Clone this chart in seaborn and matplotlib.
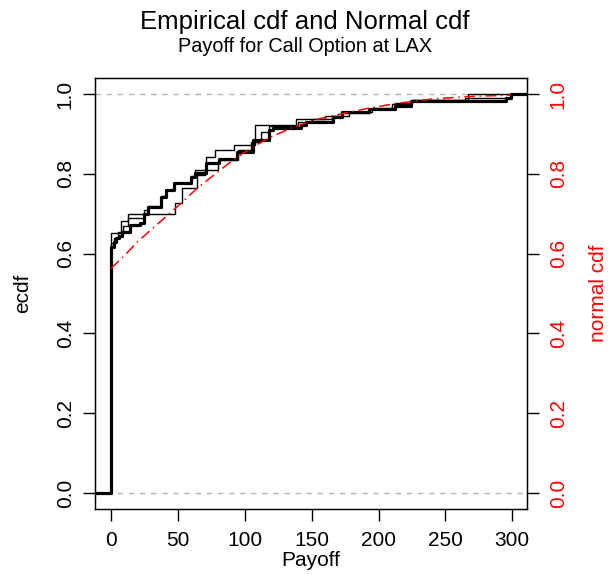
import numpy as np
import pandas as pd
import seaborn as sns
import matplotlib
matplotlib.use("Agg")
import matplotlib.pyplot as plt

# main empirical cdf (thick line): jump locations and levels
ecdf_x = [0, 2, 4, 6, 8, 14.5, 22, 24.5, 28, 37, 41, 47, 59.5, 63, 71, 80.5, 94.5,
          106, 118, 121, 142, 146, 166, 173, 193, 212, 224.5, 295, 299]
ecdf_y = [0.617, 0.63, 0.64, 0.645, 0.655, 0.672, 0.676, 0.70, 0.717, 0.743, 0.759,
          0.776, 0.793, 0.801, 0.826, 0.838, 0.855, 0.885, 0.91, 0.914, 0.922, 0.93,
          0.943, 0.954, 0.962, 0.97, 0.982, 0.989, 1.0]

# two thin ecdfs
thinA_x = [0, 7.5, 13, 24.5, 28, 37, 41, 47, 59.5, 63, 70.7, 78, 92, 108, 138, 160,
           173, 193, 212, 224.5, 265, 299]
thinA_y = [0.652, 0.682, 0.70, 0.71, 0.72, 0.745, 0.76, 0.778, 0.795, 0.81, 0.843,
           0.86, 0.872, 0.922, 0.937, 0.945, 0.952, 0.962, 0.977, 0.985, 0.99, 1.0]

thinB_x = [0, 2, 5, 9, 13, 24.5, 48, 53, 64.5, 70, 80, 95, 105, 112, 118, 140, 150,
           165, 178, 195, 210, 225, 267]
thinB_y = [0.626, 0.64, 0.655, 0.67, 0.69, 0.70, 0.727, 0.764, 0.797, 0.81, 0.835,
           0.86, 0.88, 0.905, 0.92, 0.93, 0.937, 0.945, 0.955, 0.965, 0.975, 0.985, 1.0]

# fitted normal cdf (red)
norm_x = [0, 10, 20, 30, 48, 64.5, 80, 93, 105, 118, 135, 152, 165, 192, 215, 242, 270, 299]
norm_y = [0.563, 0.595, 0.63, 0.66, 0.713, 0.764, 0.805, 0.839, 0.865, 0.89, 0.915,
          0.935, 0.945, 0.964, 0.977, 0.988, 0.994, 0.997]

XMIN, XMAX = -12, 311

sns.set_style("white")
plt.rcParams['font.family'] = ['Liberation Sans', 'DejaVu Sans']
plt.rcParams['text.color'] = 'black'
plt.rcParams['axes.labelcolor'] = 'black'
plt.rcParams['xtick.color'] = 'black'
plt.rcParams['ytick.color'] = 'black'

fig = plt.figure(figsize=(6.1, 5.75), dpi=100)
ax = fig.add_axes([95/610, 1-509/575, 432/610, 431/575])

def step_df(xs, ys):
    # pad with the flat parts before the first and after the last jump
    return pd.DataFrame({"x": [XMIN] + list(xs) + [XMAX],
                         "y": [0] + list(ys) + [ys[-1]]})

ax.axhline(0, color="#b3b3b3", ls=(0, (4, 4)), lw=1)
ax.axhline(1, color="#b3b3b3", ls=(0, (4, 4)), lw=1)

for xs, ys, w in [(thinA_x, thinA_y, 1.0), (thinB_x, thinB_y, 1.0), (ecdf_x, ecdf_y, 2.3)]:
    sns.lineplot(data=step_df(xs, ys), x="x", y="y", ax=ax, color="black", lw=w,
                 drawstyle="steps-post", sort=False, estimator=None)

sns.lineplot(x=norm_x, y=norm_y, ax=ax, color="red", lw=1.1,
             linestyle=(0, (7, 3, 1, 3)), sort=False, estimator=None)

ax.set_xlim(XMIN, XMAX)
ax.set_ylim(-0.04, 1.04)
ax.set_xticks(range(0, 301, 50))
ax.set_yticks(np.arange(0, 1.01, 0.2))
ax.set_yticklabels([f"{v:.1f}" for v in np.arange(0, 1.01, 0.2)], rotation=90, va="center")
ax.tick_params(axis="x", direction="out", length=8.6, width=1, labelsize=15,
               bottom=True, pad=7)
ax.tick_params(axis="y", direction="out", length=8.6, width=1, labelsize=15,
               left=True, pad=6)
ax.set_xlabel("Payoff", fontsize=15, labelpad=1)
ax.set_ylabel("ecdf", fontsize=15, labelpad=17)
for s in ax.spines.values():
    s.set_color("black")
    s.set_linewidth(1)

ax2 = ax.twinx()
ax2.set_ylim(-0.04, 1.04)
ax2.set_yticks(np.arange(0, 1.01, 0.2))
ax2.set_yticklabels([f"{v:.1f}" for v in np.arange(0, 1.01, 0.2)], rotation=90, va="center")
ax2.tick_params(axis="y", direction="out", length=8.6, width=1, labelsize=15,
                labelcolor="red", color="black", right=True, pad=7)
ax2.set_ylabel("normal cdf", fontsize=15, color="red", labelpad=15)
for s in ax2.spines.values():
    s.set_color("black")

fig.text(0.5, 1-22/575, "Empirical cdf and Normal cdf", ha="center", va="center", fontsize=18.5)
fig.text(0.5, 1-47/575, "Payoff for Call Option at LAX", ha="center", va="center", fontsize=14.3)

fig.savefig("out.png", dpi=100)
